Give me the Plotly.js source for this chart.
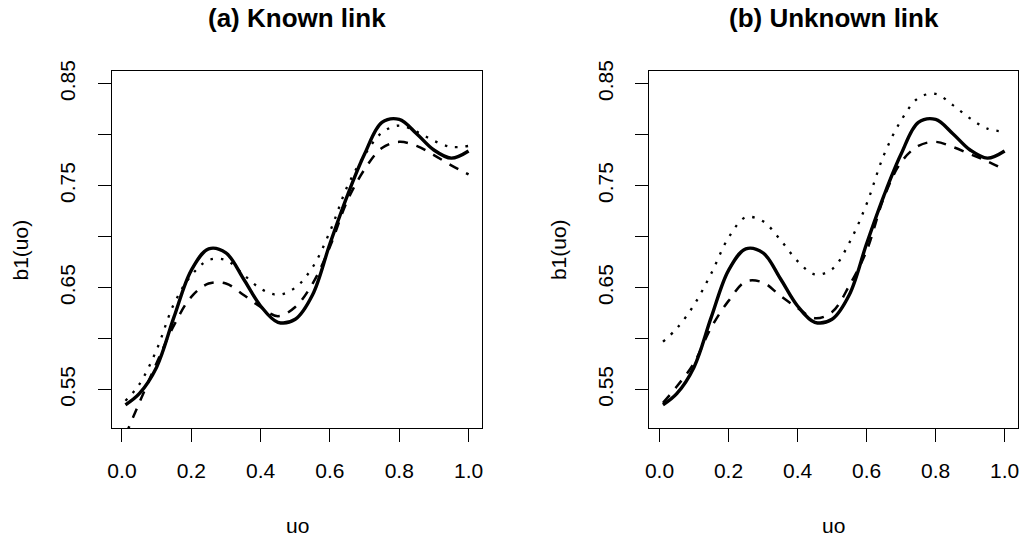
<!DOCTYPE html>
<html>
<head>
<meta charset="utf-8">
<script src="https://cdn.plot.ly/plotly-3.0.1.min.js"></script>
<style>
  html, body { margin: 0; padding: 0; background: #fff; }
  #chart { width: 1024px; height: 538px; }
</style>
</head>
<body>
<div id="chart"></div>
<script>
// ---- data ----
const uo = [0.01, 0.05, 0.10, 0.15, 0.20, 0.25, 0.30, 0.35, 0.40, 0.45, 0.50,
            0.55, 0.60, 0.65, 0.70, 0.75, 0.80, 0.85, 0.90, 0.95, 1.00];

// true curve (solid), same in both panels
const b1True = [0.535, 0.546, 0.572, 0.621, 0.667, 0.688, 0.684, 0.659, 0.632, 0.616, 0.619,
                0.643, 0.693, 0.740, 0.781, 0.812, 0.815, 0.801, 0.785, 0.777, 0.784];

// (a) Known link
const knownDotted = [0.539, 0.555, 0.589, 0.634, 0.662, 0.677, 0.677, 0.663, 0.649, 0.643, 0.650,
                     0.670, 0.705, 0.749, 0.780, 0.802, 0.809, 0.803, 0.794, 0.788, 0.789];
const knownDashed = [0.505, 0.537, 0.576, 0.613, 0.641, 0.654, 0.654, 0.643, 0.631, 0.622, 0.631,
                     0.654, 0.690, 0.735, 0.766, 0.787, 0.793, 0.789, 0.780, 0.770, 0.761];

// (b) Unknown link
const unknownDotted = [0.597, 0.610, 0.633, 0.664, 0.699, 0.719, 0.715, 0.697, 0.676, 0.663, 0.668,
                       0.694, 0.732, 0.780, 0.814, 0.836, 0.840, 0.829, 0.816, 0.806, 0.803];
const unknownDashed = [0.537, 0.553, 0.576, 0.611, 0.637, 0.656, 0.655, 0.642, 0.630, 0.620, 0.626,
                       0.652, 0.686, 0.738, 0.773, 0.789, 0.793, 0.788, 0.781, 0.774, 0.7655];

const panelTitles = ["(a) Known link", "(b) Unknown link"];
const xTitle = "uo";
const yTitle = "b1(uo)";
const xTickVals = [0, 0.2, 0.4, 0.6, 0.8, 1.0];
const xTickText = ["0.0", "0.2", "0.4", "0.6", "0.8", "1.0"];
const yTickVals = [0.55, 0.60, 0.65, 0.70, 0.75, 0.80, 0.85];
const yTickText = ["0.55", "", "0.65", "", "0.75", "", "0.85"];

// ---- styling ----
const FONT = "Liberation Sans, Arial, Helvetica, sans-serif";
const solid  = { color: "#000", width: 3.4, dash: "solid", shape: "spline" };
const dotted = { color: "#000", width: 2.3, dash: "2.5px,8px", shape: "spline" };
const dashed = { color: "#000", width: 2.5, dash: "10px,9px", shape: "spline" };

function tr(y, line, xa, ya) {
  return { x: uo, y: y, type: "scatter", mode: "lines", line: line,
           xaxis: xa, yaxis: ya, hoverinfo: "skip", showlegend: false };
}

const traces = [
  tr(b1True, solid, "x", "y"),
  tr(knownDotted, dotted, "x", "y"),
  tr(knownDashed, dashed, "x", "y"),
  tr(b1True, solid, "x2", "y2"),
  tr(unknownDotted, dotted, "x2", "y2"),
  tr(unknownDashed, dashed, "x2", "y2")
];

function xAxis(domain, anchor) {
  return {
    domain: domain, anchor: anchor, range: [-0.0296, 1.0396],
    tickmode: "array", tickvals: xTickVals, ticktext: xTickText,
    ticks: "outside", ticklen: 13, tickwidth: 1, tickcolor: "#000",
    showline: true, mirror: true, linecolor: "#000", linewidth: 1,
    showgrid: false, zeroline: false, ticklabelstandoff: 10,
    tickfont: { family: FONT, size: 21, color: "#000" }
  };
}
function yAxis(domain, anchor) {
  return {
    domain: domain, anchor: anchor, range: [0.5120, 0.8628],
    tickmode: "array", tickvals: yTickVals, ticktext: yTickText,
    ticks: "outside", ticklen: 13, tickwidth: 1, tickcolor: "#000",
    showline: true, mirror: true, linecolor: "#000", linewidth: 1,
    showgrid: false, zeroline: false, tickangle: -90, ticklabelstandoff: 14,
    tickfont: { family: FONT, size: 21, color: "#000" }
  };
}

const yDom = [0.2039, 0.8686];
const x1Dom = [0.10908, 0.47100];
const x2Dom = [0.63408, 0.99443];

function ann(text, x, y, opts) {
  return Object.assign({ text: text, x: x, y: y, xref: "paper", yref: "paper",
    showarrow: false, xanchor: "center", yanchor: "middle",
    font: { family: FONT, size: 21, color: "#000" } }, opts || {});
}

const layout = {
  width: 1024, height: 538,
  margin: { l: 0, r: 0, t: 0, b: 0 },
  paper_bgcolor: "#fff", plot_bgcolor: "#fff",
  showlegend: false,
  xaxis: xAxis(x1Dom, "y"),
  yaxis: yAxis(yDom, "x"),
  xaxis2: xAxis(x2Dom, "y2"),
  yaxis2: yAxis(yDom, "x2"),
  annotations: [
    ann("<b>" + panelTitles[0] + "</b>", (x1Dom[0] + x1Dom[1]) / 2, 0.9665,
        { font: { family: FONT, size: 26, color: "#000" } }),
    ann("<b>" + panelTitles[1] + "</b>", (x2Dom[0] + x2Dom[1]) / 2, 0.9665,
        { font: { family: FONT, size: 26, color: "#000" } }),
    ann(xTitle, (x1Dom[0] + x1Dom[1]) / 2, 0.024),
    ann(xTitle, (x2Dom[0] + x2Dom[1]) / 2, 0.024),
    ann(yTitle, 0.0205, (yDom[0] + yDom[1]) / 2, { textangle: -90 }),
    ann(yTitle, 0.0205 + (x2Dom[0] - x1Dom[0]), (yDom[0] + yDom[1]) / 2, { textangle: -90 })
  ]
};

Plotly.newPlot("chart", traces, layout, { staticPlot: true, displayModeBar: false });
</script>
</body>
</html>
